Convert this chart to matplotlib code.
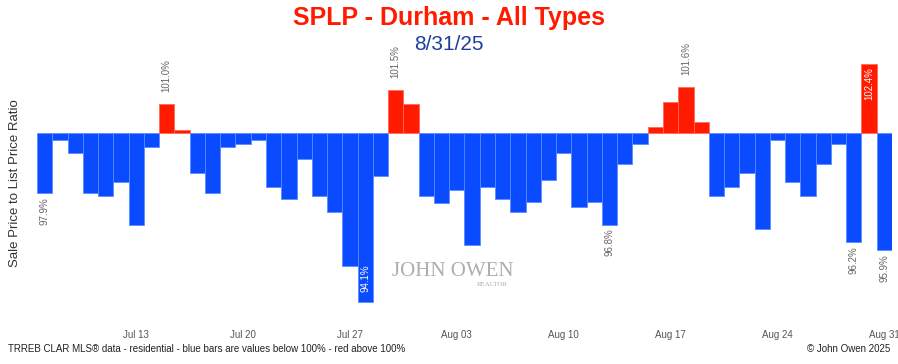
import matplotlib.pyplot as plt
import numpy as np
import pandas as pd

plt.rcParams['font.family'] = ['Liberation Sans', 'DejaVu Sans']

# Дані: щоденне співвідношення ціни продажу до ціни пропозиції (%)
dates = pd.date_range('2025-07-07', '2025-08-31', freq='D')
ratios = [97.9, 99.75, 99.3, 97.9, 97.8, 98.3, 96.8, 99.5, 101.0, 100.1,
          98.6, 97.9, 99.5, 99.6, 99.75, 98.1, 97.7, 99.1, 97.8, 97.25,
          95.35, 94.1, 98.5, 101.5, 101.0, 97.8, 97.55, 98.0, 96.1, 98.1,
          97.7, 97.25, 97.6, 98.35, 99.3, 97.4, 97.6, 96.8, 98.9, 99.6,
          100.2, 101.1, 101.6, 100.4, 97.8, 98.1, 98.6, 96.65, 99.75, 98.3,
          97.8, 98.9, 99.6, 96.2, 102.4, 95.9]
labeled = [0, 8, 21, 23, 37, 42, 53, 54, 55]   # стовпці з підписами
tick_idx = list(range(6, len(dates), 7))

W, H = 898, 364
fig = plt.figure(figsize=(W / 100, H / 100), dpi=100)
ax = fig.add_axes([37 / W, 1 - 322 / H, 855 / W, (322 - 30) / H])

x = np.arange(len(ratios))
vals = np.array(ratios)
colors = np.where(vals >= 100, '#ff1a00', '#0a4bff')
edges = np.where(vals >= 100, '#ff6a55', '#5a8bff')
ax.bar(x, vals - 100, bottom=100, width=1.0, color=colors,
       edgecolor=edges, linewidth=0.6)

ax.set_xlim(-0.5, len(ratios) - 0.5)
ax.set_ylim(100 - 189 / 28.6, 100 + 103 / 28.6)

vmin, vmax = vals.min(), vals.max()
for i in labeled:
    v = vals[i]
    txt = f'{v:.1f}%'
    if v == vmin:
        ax.annotate(txt, (i, v), xytext=(0, 7), textcoords='offset points',
                    rotation=90, ha='center', va='bottom', fontsize=7, color='white')
    elif v == vmax:
        ax.annotate(txt, (i, v), xytext=(0, -2), textcoords='offset points',
                    rotation=90, ha='center', va='top', fontsize=7, color='white')
    elif v >= 100:
        ax.annotate(txt, (i, v), xytext=(0, 9), textcoords='offset points',
                    rotation=90, ha='center', va='bottom', fontsize=7, color='#666666')
    else:
        ax.annotate(txt, (i, v), xytext=(0, -3), textcoords='offset points',
                    rotation=90, ha='center', va='top', fontsize=7, color='#666666')

ax.set_xticks(tick_idx)
ax.set_xticklabels([dates[i].strftime('%b %d') for i in tick_idx],
                   fontsize=7, color='#555555')
ax.tick_params(axis='x', length=0, pad=6)
ax.set_yticks([])
for s in ax.spines.values():
    s.set_visible(False)

fig.text(15 / W, 1 - 183 / H, 'Sale Price to List Price Ratio', rotation=90,
         ha='center', va='center', fontsize=9.5, color='#333333')

# Заголовки
fig.text(0.5, 1 - 18 / H, 'SPLP - Durham - All Types', ha='center', va='center',
         fontsize=18, fontweight='bold', color='#ff1a00')
fig.text(0.5, 1 - 45 / H, '8/31/25', ha='center', va='center',
         fontsize=15, color='#1f3fa0')

# Водяний знак
fig.text(453 / W, 1 - 272 / H, 'JOHN OWEN', ha='center', va='center',
         fontsize=15, family='Liberation Serif', color='#9a9a9a', alpha=0.8)
fig.text(508 / W, 1 - 284 / H, 'REALTOR', ha='right', va='center',
         fontsize=5, family='Liberation Serif', color='#9a9a9a', alpha=0.8)

# Нижні підписи
fig.text(8 / W, 1 - 349 / H,
         'TRREB CLAR MLS\u00ae data - residential - blue bars are values below 100% - red above 100%',
         ha='left', va='center', fontsize=7, color='#222222')
fig.text(890 / W, 1 - 349 / H, '\u00a9 John Owen 2025', ha='right', va='center',
         fontsize=7, color='#222222')

fig.savefig('out.png', dpi=100, facecolor='white')
